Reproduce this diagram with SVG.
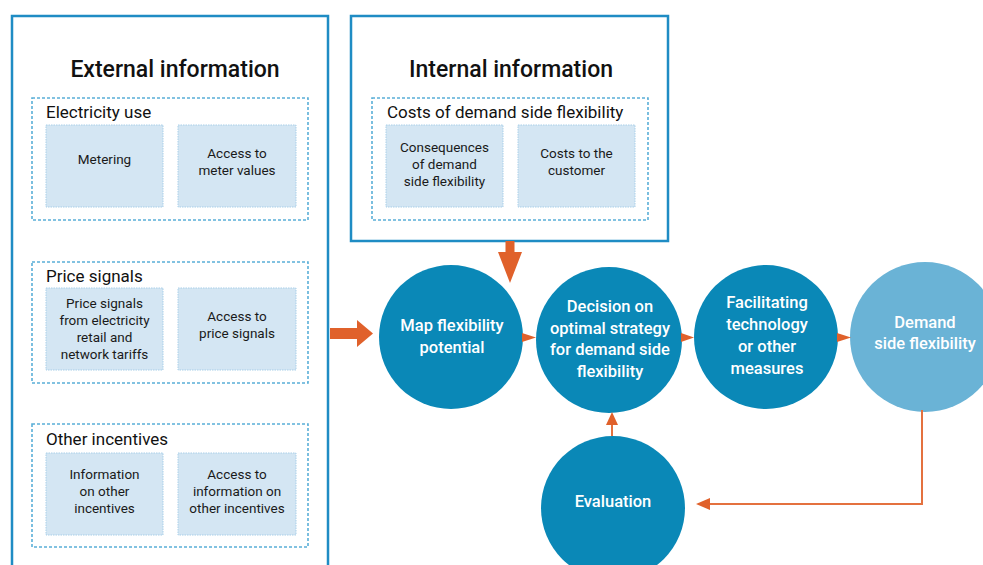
<svg xmlns="http://www.w3.org/2000/svg" width="983" height="565" viewBox="0 0 983 565">
  <style>
    .frame { fill: #ffffff; stroke: #1f8cc4; stroke-width: 2.5; }
    .group { fill: none; stroke: #5aafd8; stroke-width: 1.6; stroke-dasharray: 3 2; }
    .cell { fill: #d4e6f3; stroke: #a9cfe8; stroke-width: 1; stroke-dasharray: 1.5 1; }
    .title { font-family: Roboto, "Liberation Sans", Arial, sans-serif; font-weight: 500; font-size: 23px; fill: #111111; text-anchor: middle; }
    .glabel { font-family: Roboto, "Liberation Sans", Arial, sans-serif; font-weight: 400; font-size: 17px; fill: #111111; }
    .ctext { font-family: Roboto, "Liberation Sans", Arial, sans-serif; font-weight: 400; font-size: 13.5px; fill: #1a1a1a; text-anchor: middle; }
    .step { fill: #0a88b7; }
    .result { fill: #6ab3d6; }
    .stext { font-family: Roboto, "Liberation Sans", Arial, sans-serif; font-size: 16.5px; font-weight: 500; fill: #ffffff; text-anchor: middle; }
    .arrow { fill: #e0612b; }
    .link { fill: none; stroke: #e4713f; stroke-width: 2; }
  </style>

  <!-- External information panel -->
  <g id="external">
    <rect class="frame" x="12" y="16" width="316" height="560"/>
    <text class="title" x="175" y="77">External information</text>
    <g id="electricity-use">
      <rect class="group" x="32" y="98" width="276" height="122"/>
      <text class="glabel" x="46" y="118">Electricity use</text>
      <rect class="cell" x="46" y="125" width="117" height="82"/>
      <text class="ctext" x="104.5" y="164">Metering</text>
      <rect class="cell" x="178" y="125" width="118" height="82"/>
      <text class="ctext" x="237" y="158">Access to</text>
      <text class="ctext" x="237" y="175">meter values</text>
    </g>
    <g id="price-signals">
      <rect class="group" x="32" y="262" width="276" height="121"/>
      <text class="glabel" x="46" y="282">Price signals</text>
      <rect class="cell" x="46" y="288" width="117" height="82"/>
      <text class="ctext" x="104.5" y="308">Price signals</text>
      <text class="ctext" x="104.5" y="325">from electricity</text>
      <text class="ctext" x="104.5" y="342">retail and</text>
      <text class="ctext" x="104.5" y="359">network tariffs</text>
      <rect class="cell" x="178" y="288" width="118" height="82"/>
      <text class="ctext" x="237" y="321">Access to</text>
      <text class="ctext" x="237" y="338">price signals</text>
    </g>
    <g id="other-incentives">
      <rect class="group" x="32" y="424" width="276" height="123"/>
      <text class="glabel" x="46" y="445">Other incentives</text>
      <rect class="cell" x="46" y="453" width="117" height="82"/>
      <text class="ctext" x="104.5" y="479">Information</text>
      <text class="ctext" x="104.5" y="496">on other</text>
      <text class="ctext" x="104.5" y="513">incentives</text>
      <rect class="cell" x="178" y="453" width="118" height="82"/>
      <text class="ctext" x="237" y="479">Access to</text>
      <text class="ctext" x="237" y="496">information on</text>
      <text class="ctext" x="237" y="513">other incentives</text>
    </g>
  </g>

  <!-- Internal information panel -->
  <g id="internal">
    <rect class="frame" x="351" y="16" width="317" height="225"/>
    <text class="title" x="511" y="77">Internal information</text>
    <g id="costs">
      <rect class="group" x="372" y="98" width="276" height="122"/>
      <text class="glabel" x="387" y="118">Costs of demand side flexibility</text>
      <rect class="cell" x="386" y="125" width="117" height="82"/>
      <text class="ctext" x="444.5" y="152">Consequences</text>
      <text class="ctext" x="444.5" y="169">of demand</text>
      <text class="ctext" x="444.5" y="186">side flexibility</text>
      <rect class="cell" x="518" y="125" width="117" height="82"/>
      <text class="ctext" x="576.5" y="158">Costs to the</text>
      <text class="ctext" x="576.5" y="175">customer</text>
    </g>
  </g>

  <!-- Process steps -->
  <g id="map-potential">
    <circle class="step" cx="451" cy="337" r="72"/>
    <text class="stext" x="452" y="331">Map flexibility</text>
    <text class="stext" x="452" y="353">potential</text>
  </g>
  <g id="decision">
    <circle class="step" cx="609" cy="340" r="73"/>
    <text class="stext" x="610" y="312">Decision on</text>
    <text class="stext" x="610" y="334">optimal strategy</text>
    <text class="stext" x="610" y="355">for demand side</text>
    <text class="stext" x="610" y="377">flexibility</text>
  </g>
  <g id="facilitating">
    <circle class="step" cx="766" cy="337" r="72"/>
    <text class="stext" x="767" y="308">Facilitating</text>
    <text class="stext" x="767" y="330">technology</text>
    <text class="stext" x="767" y="352">or other</text>
    <text class="stext" x="767" y="374">measures</text>
  </g>
  <g id="demand-flexibility">
    <circle class="result" cx="925" cy="337" r="75"/>
    <text class="stext" x="925" y="328">Demand</text>
    <text class="stext" x="925" y="349">side flexibility</text>
  </g>
  <g id="evaluation">
    <circle class="step" cx="613" cy="508" r="72"/>
    <text class="stext" x="613" y="507">Evaluation</text>
  </g>

  <!-- Connectors -->
  <g id="connectors">
    <!-- external information into mapping -->
    <polygon class="arrow" points="330,328 357,328 357,320 373,333.5 357,347 357,339 330,339"/>
    <!-- internal information into mapping -->
    <polygon class="arrow" points="505.5,241 514.5,241 514.5,252 522,252 510,283 498,252 505.5,252"/>
    <!-- step to step -->
    <polygon class="arrow" points="522,333 536,337.5 522,342"/>
    <polygon class="arrow" points="681,333 694,337.5 681,342"/>
    <polygon class="arrow" points="837,333 851,337.5 837,342"/>
    <!-- evaluation back into decision -->
    <line class="link" x1="612" y1="436" x2="612" y2="422"/>
    <polygon class="arrow" points="606,425 612,412 618,425"/>
    <!-- feedback from result to evaluation -->
    <polyline class="link" points="922,410 922,504 708,504"/>
    <polygon class="arrow" points="710,498 696,504 710,510"/>
  </g>
</svg>
